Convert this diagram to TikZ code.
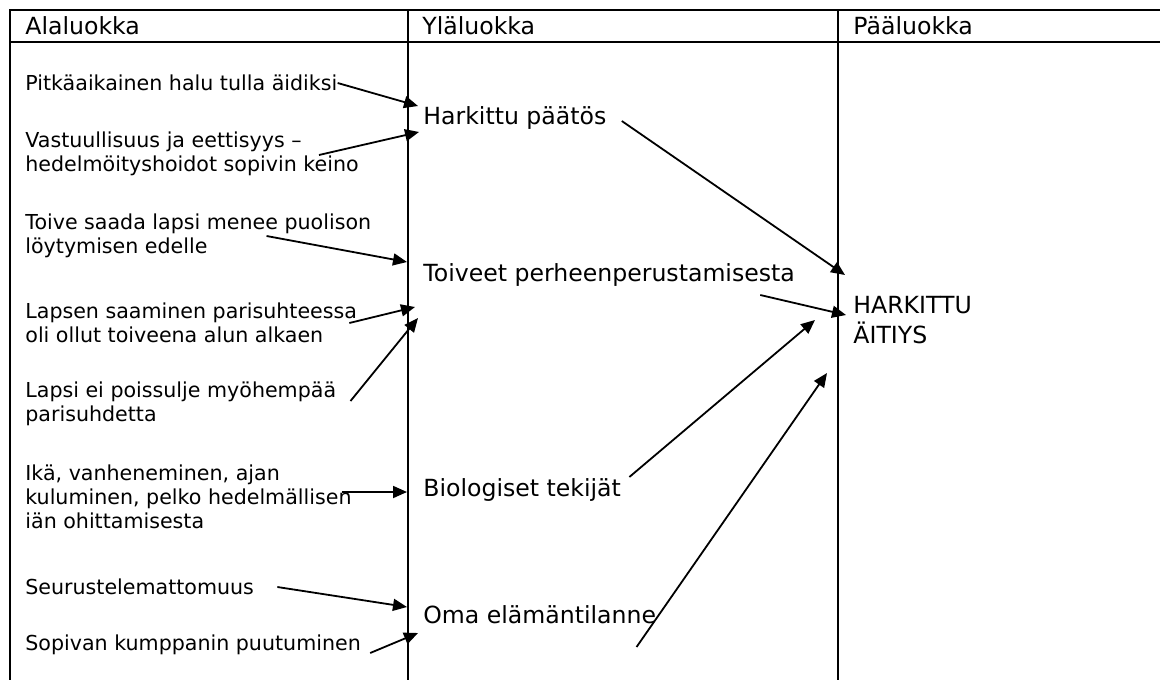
\documentclass[tikz,border=0pt]{standalone}
\usepackage{fontspec}
\setmainfont{DejaVu Sans}
\usepackage{tikz}
\usetikzlibrary{
    arrows.meta,
    positioning,
    calc
}
\newcommand{\subsize}{\fontsize{10.3}{12}\selectfont}
\newcommand{\catsize}{\fontsize{11.8}{15}\selectfont}
\tikzstyle{subcat} = [
    anchor=west,
    inner sep=0pt,
    align=left,
    font=\subsize
]
\tikzstyle{uppercat} = [
    anchor=west,
    inner sep=0pt,
    align=left,
    font=\catsize
]
\tikzstyle{heading} = [
    anchor=west,
    inner sep=0pt,
    font=\catsize
]
\tikzstyle{grid} = [
    line width=0.9pt,
    draw=black
]
\tikzstyle{arrow} = [
    -{Triangle[length=7pt,width=6pt]},
    line width=0.9pt,
    draw=black
]

\begin{document}
\begin{tikzpicture}[x=0.5pt, y=-0.5pt]
        \useasboundingbox (0,0) rectangle (1160,680);

        % Table lines
        \draw[grid] (1160,10) -- (10,10) -- (10,680);
        \draw[grid] (10,42) -- (1160,42);
        \draw[grid] (408,10) -- (408,680);
        \draw[grid] (838,10) -- (838,680);

        % Headings
        \node[heading] (ala) at (25,26) {Alaluokka};
        \node[heading] (yla) at (422,26) {Yläluokka};
        \node[heading] (paa) at (853,26) {Pääluokka};

        % Alaluokat
        \node[subcat] (halu) at (25,83) {Pitkäaikainen halu tulla äidiksi};
        \node[subcat] (vastuu) at (25,154) {Vastuullisuus ja eettisyys –\\hedelmöityshoidot sopivin keino};
        \node[subcat] (puoliso) at (25,236) {Toive saada lapsi menee puolison\\löytymisen edelle};
        \node[subcat] (pari) at (25,323) {Lapsen saaminen parisuhteessa\\oli ollut toiveena alun alkaen};
        \node[subcat] (myohem) at (25,404) {Lapsi ei poissulje myöhempää\\parisuhdetta};
        \node[subcat] (ika) at (25,497) {Ikä, vanheneminen, ajan\\kuluminen, pelko hedelmällisen\\iän ohittamisesta};
        \node[subcat] (seur) at (25,587) {Seurustelemattomuus};
        \node[subcat] (kumppani) at (25,645) {Sopivan kumppanin puutuminen};

        % Yläluokat
        \node[uppercat] (paatos) at (423,118) {Harkittu päätös};
        \node[uppercat] (toiveet) at (423,275) {Toiveet perheenperustamisesta};
        \node[uppercat] (bio) at (423,490) {Biologiset tekijät};
        \node[uppercat] (tilanne) at (423,615) {Oma elämäntilanne};

        % Pääluokka
        \node[uppercat] (aitiys) at (853,320) {HARKITTU\\ÄITIYS};

        % Alaluokka -> Yläluokka
        \draw[arrow] (halu.east) -- ($(paatos.west)+(-5,-12)$);
        \draw[arrow] ($(vastuu.east)+(-40,1)$) -- ($(paatos.west)+(-4,14)$);
        \draw[arrow] ($(puoliso.east)+(-105,0)$) -- ($(toiveet.west)+(-16,-13)$);
        \draw[arrow] ($(pari.east)+(-8,0)$) -- ($(toiveet.west)+(-8,32)$);
        \draw[arrow] ($(myohem.east)+(14,-3)$) -- ($(toiveet.west)+(-5,43)$);
        \draw[arrow] ($(ika.east)+(-10,-5)$) -- ($(bio.west)+(-16,2)$);
        \draw[arrow] ($(seur.east)+(23,0)$) -- ($(tilanne.west)+(-16,-8)$);
        \draw[arrow] ($(kumppani.east)+(9,8)$) -- ($(tilanne.west)+(-5,18)$);

        % Yläluokka -> Pääluokka
        \draw[arrow] ($(paatos.east)+(15,3)$) -- ($(aitiys.west)+(-8,-45)$);
        \draw[arrow] ($(toiveet.east)+(-35,20)$) -- ($(aitiys.west)+(-7,-5)$);
        \draw[arrow] ($(bio.east)+(8,-13)$) -- ($(aitiys.west)+(-38,0)$);
        \draw[arrow] ($(tilanne.east)+(-20,32)$) -- ($(aitiys.west)+(-26,53)$);
    \end{tikzpicture}
\end{document}
